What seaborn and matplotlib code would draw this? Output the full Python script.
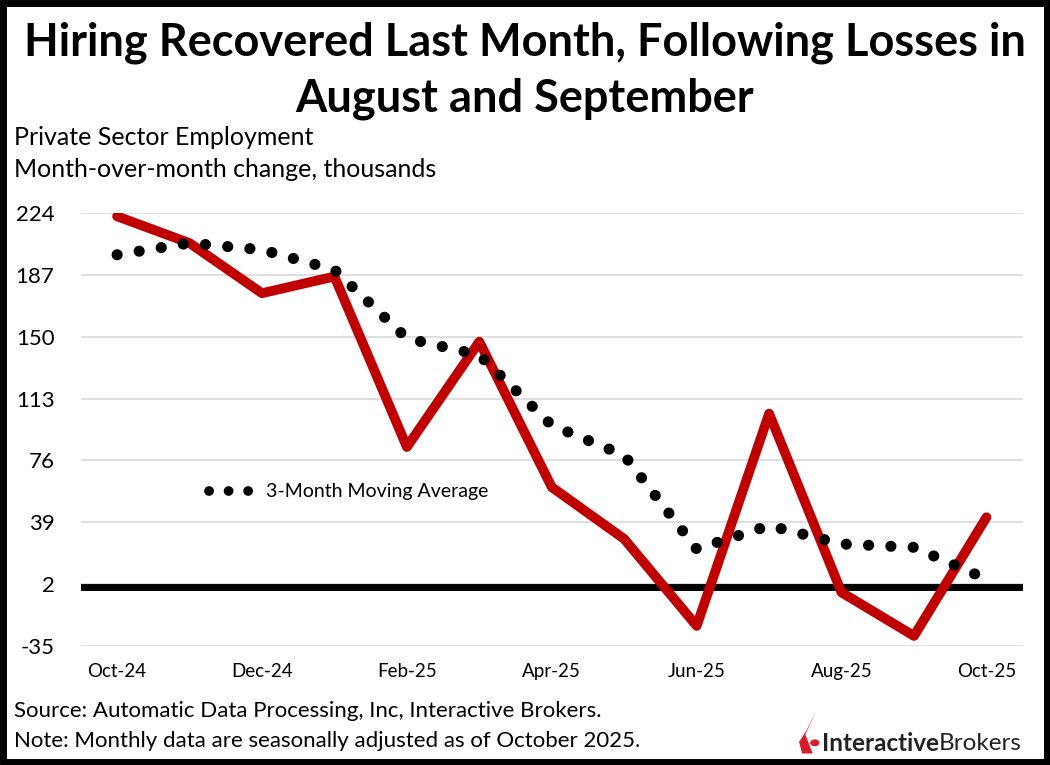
import numpy as np
import pandas as pd
import matplotlib.pyplot as plt
import seaborn as sns
from matplotlib.patches import Rectangle, Polygon, Circle

# ===== DATA =====
months = ["Oct-24", "Nov-24", "Dec-24", "Jan-25", "Feb-25", "Mar-25", "Apr-25",
          "May-25", "Jun-25", "Jul-25", "Aug-25", "Sep-25", "Oct-25"]
payrolls = [222, 206, 176, 186, 84, 147, 60, 29, -23, 104, -3, -29, 42]
moving_avg = [199, 206, 202, 190, 149, 139, 97, 79, 23, 37, 26, 24, 5]
y_ticks = [-35, 2, 39, 76, 113, 150, 187, 224]
x_tick_labels = ["Oct-24", "Dec-24", "Feb-25", "Apr-25", "Jun-25", "Aug-25", "Oct-25"]

df = pd.DataFrame({"month": months, "x": np.arange(len(months)),
                   "payrolls": payrolls, "ma": moving_avg})

sns.set_style("white")
plt.rcParams["font.family"] = ["Lato", "DejaVu Sans"]
plt.rcParams["text.color"] = "black"
plt.rcParams["xtick.color"] = "black"
plt.rcParams["ytick.color"] = "black"

fig = plt.figure(figsize=(10.5, 7.65), dpi=100)
ax = fig.add_axes([0.077, 0.1556, 0.897, 0.566])

# horizontal gridlines
for yt in y_ticks:
    ax.axhline(yt, color="#d9d9d9", lw=1.2, zorder=0)
ax.axhline(0, color="black", lw=5, zorder=1)

sns.lineplot(data=df, x="x", y="payrolls", ax=ax, color="#C00000", lw=7,
             solid_capstyle="round", solid_joinstyle="round", zorder=3,
             legend=False)
sns.lineplot(data=df, x="x", y="ma", ax=ax, color="black", lw=8,
             linestyle=(0, (0.01, 2.0)), dash_capstyle="round", zorder=4,
             label="3-Month Moving Average", clip_on=False)

ax.set_xlim(-0.5, len(months) - 0.5)
ax.set_ylim(-35, 224)
ax.set_yticks(y_ticks)
ax.set_yticklabels([str(v) for v in y_ticks], fontsize=16)
ax.set_xticks([months.index(m) for m in x_tick_labels])
ax.set_xticklabels(x_tick_labels, fontsize=13.5)
ax.tick_params(axis="y", length=0, pad=19)
ax.tick_params(axis="x", length=0, pad=12)
ax.set_xlabel("")
ax.set_ylabel("")
for s in ax.spines.values():
    s.set_visible(False)

leg = ax.legend(loc="center left", bbox_to_anchor=(0.118, 0.356), frameon=False,
                fontsize=14, handlelength=2.7, handletextpad=0.2)
leg.get_lines()[0].set_linewidth(7)

# ===== TEXT =====
fig.text(0.5, 0.944, "Hiring Recovered Last Month, Following Losses in",
         ha="center", va="center", fontsize=32.5, fontweight="bold")
fig.text(0.5, 0.871, "August and September", ha="center", va="center",
         fontsize=32.5, fontweight="bold")
fig.text(0.013, 0.82, "Private Sector Employment", ha="left", va="center",
         fontsize=18)
fig.text(0.013, 0.778, "Month-over-month change, thousands", ha="left",
         va="center", fontsize=18)
fig.text(0.013, 0.071, "Source: Automatic Data Processing, Inc, Interactive Brokers.",
         ha="left", va="center", fontsize=16)
fig.text(0.013, 0.031, "Note: Monthly data are seasonally adjusted as of October 2025.",
         ha="left", va="center", fontsize=16)

# logo
t1 = fig.text(0.783, 0.028, "Interactive", ha="left", va="center", fontsize=17.5,
              fontweight="bold", color="#222222")
fig.canvas.draw()
bb = t1.get_window_extent(fig.canvas.get_renderer()).transformed(fig.transFigure.inverted())
fig.text(bb.x1, 0.028, "Brokers", ha="left", va="center", fontsize=17.5,
         color="#222222")
fig.patches.append(Polygon([[0.764, 0.015], [0.774, 0.015], [0.767, 0.04],
                            [0.778, 0.072], [0.768, 0.045], [0.761, 0.03]],
                           closed=True, transform=fig.transFigure,
                           facecolor="#d81e2c", edgecolor="none"))
fig.patches.append(Circle((0.776, 0.029), 0.0045, transform=fig.transFigure,
                          facecolor="#d81e2c", edgecolor="none"))

# border
fig.patches.append(Rectangle((0.003, 0.004), 0.994, 0.992, transform=fig.transFigure,
                             fill=False, edgecolor="black", lw=5))

fig.savefig("out.png", dpi=100, facecolor="white")
